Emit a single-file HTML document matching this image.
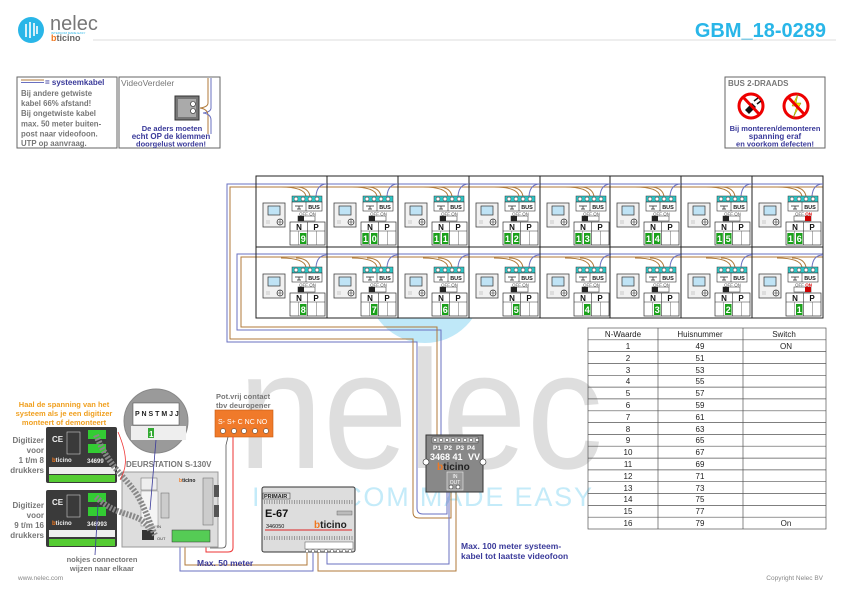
<!DOCTYPE html>
<html><head><meta charset="utf-8"><style>
html,body{margin:0;padding:0;background:#fff}
svg{display:block;font-family:"Liberation Sans",Arial,sans-serif}
.b{font-weight:bold}
.t5{font-size:5.5px;font-weight:bold;fill:#222}
.t4{font-size:4.5px;fill:#555}
.t7{font-size:8px;font-weight:bold;fill:#111}
.dg{font-size:9px;font-weight:bold;fill:#fff}
.tb{font-size:8px;fill:#222}
</style></head><body>
<svg width="841" height="595" viewBox="0 0 841 595" xmlns="http://www.w3.org/2000/svg">
<defs>
<g id="cell">
  <path d="M25 11 Q48 11 50 20" fill="none" stroke="#b07a3a" stroke-width="1"/>
  <path d="M71 8 Q61 8 60 20" fill="none" stroke="#6a70c0" stroke-width="1"/>
  <path d="M40 11 Q52 11 54 20" fill="none" stroke="#b07a3a" stroke-width="1"/>
  <rect x="7" y="27" width="22" height="24" fill="#f1f1f1" stroke="#444" stroke-width="0.8"/>
  <rect x="12" y="30" width="12" height="9" fill="#bfe3f5" stroke="#333" stroke-width="0.7"/>
  <rect x="10" y="44" width="4" height="4" fill="#ddd"/>
  <circle cx="24" cy="46" r="3" fill="#fff" stroke="#333" stroke-width="0.7"/>
  <path d="M21 46H27M24 43V49" stroke="#333" stroke-width="0.6"/>
  <rect x="36" y="20" width="30" height="6" fill="#2cc7c7" stroke="#333" stroke-width="0.5"/>
  <circle cx="40" cy="23" r="2" fill="#fff" stroke="#333" stroke-width="0.5"/>
  <circle cx="47" cy="23" r="2" fill="#fff" stroke="#333" stroke-width="0.5"/>
  <circle cx="54" cy="23" r="2" fill="#fff" stroke="#333" stroke-width="0.5"/>
  <circle cx="61" cy="23" r="2" fill="#fff" stroke="#333" stroke-width="0.5"/>
  <rect x="36" y="26" width="30" height="9" fill="#fff" stroke="#333" stroke-width="0.6"/>
  <line x1="50" y1="26" x2="50" y2="35" stroke="#333" stroke-width="0.6"/>
  <path d="M39 30H47M43 30V33M41 33H45" stroke="#222" stroke-width="0.7" fill="none"/>
  <rect x="42" y="40" width="17" height="5" fill="#fff" stroke="#444" stroke-width="0.6"/>
  <rect x="34" y="46" width="35" height="23" fill="#fff" stroke="#333" stroke-width="0.7"/>
  <line x1="34" y1="55" x2="69" y2="55" stroke="#333" stroke-width="0.6"/>
  <line x1="51.5" y1="46" x2="51.5" y2="69" stroke="#333" stroke-width="0.6"/>
  <line x1="42.75" y1="55" x2="42.75" y2="69" stroke="#666" stroke-width="0.5"/>
  <line x1="60.25" y1="55" x2="60.25" y2="69" stroke="#666" stroke-width="0.5"/>
</g>
<rect id="off" x="42" y="40" width="6" height="5" fill="#222"/>
<rect id="on" x="53" y="40" width="6" height="5" fill="#c00"/>
</defs>

<!-- header -->
<circle cx="31" cy="30" r="13" fill="#29b6e8"/>
<path d="M26 24V37M30 22V38M34 23V36M37 26V34" stroke="#fff" stroke-width="1.6"/>
<text x="50" y="30" font-size="20" fill="#777">nelec</text>
<text x="51" y="34" font-size="3" fill="#29b6e8">INTERCOM MADE EASY</text>
<text x="51" y="41" font-size="9" font-weight="bold" fill="#666"><tspan fill="#f07820">b</tspan>ticino</text>
<line x1="93" y1="40" x2="836" y2="40" stroke="#ddd" stroke-width="1"/>
<text x="826" y="37" font-size="20" font-weight="bold" fill="#29b6e8" text-anchor="end">GBM_18-0289</text>

<!-- watermark -->
<circle cx="425" cy="285" r="58" fill="#bfe8f8"/>
<text x="238" y="468" font-size="168" fill="#dedede" textLength="365" lengthAdjust="spacingAndGlyphs">nelec</text>
<text x="252" y="506" font-size="27" fill="#c4ebf9" textLength="340" lengthAdjust="spacing">INTERCOM MADE EASY</text>

<!-- legend boxes -->
<rect x="17" y="77" width="100" height="71" fill="#fff" stroke="#666" stroke-width="1"/>
<line x1="21" y1="80" x2="44" y2="80" stroke="#b07a3a" stroke-width="1"/>
<line x1="21" y1="82.5" x2="44" y2="82.5" stroke="#6a70c0" stroke-width="1"/>
<text x="45" y="85" class="b" font-size="8" fill="#3a3a9a">= systeemkabel</text>
<g class="b" font-size="7.8" fill="#777">
<text x="21" y="96">Bij andere getwiste</text>
<text x="21" y="106">kabel 66% afstand!</text>
<text x="21" y="116.2">Bij ongetwiste kabel</text>
<text x="21" y="126.4">max. 50 meter buiten-</text>
<text x="21" y="136.6">post naar videofoon.</text>
<text x="21" y="146.2">UTP op aanvraag.</text>
</g>
<rect x="119" y="77" width="101" height="71" fill="#fff" stroke="#666" stroke-width="1"/>
<text x="121" y="86" font-size="8.5" fill="#777">VideoVerdeler</text>
<path d="M208 78V103Q208 107 200 108" stroke="#b07a3a" fill="none"/>
<path d="M211 78V108Q211 112 203 113" stroke="#6a70c0" fill="none"/>
<path d="M200 108Q208 109 208 116V134" stroke="#b07a3a" fill="none"/>
<path d="M203 113Q211 114 211 120V134" stroke="#6a70c0" fill="none"/>
<rect x="175" y="96" width="24" height="24" fill="#777" stroke="#333"/>
<rect x="178" y="99" width="18" height="18" fill="#aaa"/>
<circle cx="193" cy="104" r="2.5" fill="#fff" stroke="#222" stroke-width="0.6"/>
<circle cx="193" cy="111" r="2.5" fill="#fff" stroke="#222" stroke-width="0.6"/>
<g class="b" fill="#3a3a9a" text-anchor="middle">
<text x="172" y="131" font-size="7.5">De aders moeten</text>
<text x="171" y="139" font-size="8">echt OP de klemmen</text>
<text x="171" y="146.5" font-size="7.5">doorgelust worden!</text>
</g>
<rect x="725" y="77" width="100" height="71" fill="#fff" stroke="#666" stroke-width="1"/>
<text x="728" y="86" class="b" font-size="8" fill="#777">BUS 2-DRAADS</text>
<circle cx="751" cy="106" r="12" fill="#fff" stroke="#e00" stroke-width="3"/>
<path d="M745 110L752 103L756 107L749 114Z" fill="#111"/><path d="M754 101L758 98M757 104L761 101" stroke="#111" stroke-width="1.5"/>
<line x1="743" y1="97" x2="760" y2="115" stroke="#e00" stroke-width="3"/>
<circle cx="796" cy="106" r="12" fill="#fff" stroke="#e00" stroke-width="3"/>
<path d="M798 94L792 106L797 106L793 118L801 103L796 103Z" fill="#ee0" stroke="#880" stroke-width="0.5"/>
<line x1="788" y1="97" x2="805" y2="115" stroke="#e00" stroke-width="3"/>
<g class="b" fill="#3a3a9a" text-anchor="middle">
<text x="775" y="131" font-size="7.5">Bij monteren/demonteren</text>
<text x="775" y="139" font-size="8">spanning eraf</text>
<text x="775" y="146.5" font-size="7.5">en voorkom defecten!</text>
</g>

<!-- system cable wiring -->
<g fill="none" stroke-width="1">
<path d="M256 184H227V342H417V508Q417 514 423 514H447V490" stroke="#6a70c0"/>
<path d="M256 187H230V339H413V512Q413 518 419 518H451V490" stroke="#b07a3a"/>
<path d="M256 254H237V330H441V436" stroke="#6a70c0"/>
<path d="M256 257H241V327H437V436" stroke="#b07a3a"/>
<path d="M327 552V564H449V492" stroke="#6a70c0"/>
<path d="M318 552V571H456V492" stroke="#b07a3a"/>
<path d="M313 552V571H180V541" stroke="#6a70c0"/>
<path d="M307 552V565H185V541" stroke="#b07a3a"/>
</g>

<!-- grid -->
<rect x="256" y="176" width="567" height="142" fill="#fff"/>
<path d="M256 184H823" stroke="#6a70c0" fill="none"/>
<path d="M256 187H823" stroke="#b07a3a" fill="none"/>
<path d="M256 254H823" stroke="#6a70c0" fill="none"/>
<path d="M256 257H823" stroke="#b07a3a" fill="none"/>
<g fill="none" stroke="#222" stroke-width="1">
<rect x="256" y="176" width="567" height="142"/>
<line x1="256" y1="247" x2="823" y2="247"/>
<line x1="327" y1="176" x2="327" y2="318"/><line x1="398" y1="176" x2="398" y2="318"/>
<line x1="469" y1="176" x2="469" y2="318"/><line x1="540" y1="176" x2="540" y2="318"/>
<line x1="610" y1="176" x2="610" y2="318"/><line x1="681" y1="176" x2="681" y2="318"/>
<line x1="752" y1="176" x2="752" y2="318"/>
</g>

<!-- row 1 -->
<g transform="translate(256,176)"><use href="#cell"/><use href="#off"/><text x="58" y="33" class="t5" text-anchor="middle">BUS</text><text x="43" y="39.5" class="t4">OFF ON</text><text x="43" y="54" class="t7" text-anchor="middle">N</text><text x="60" y="54" class="t7" text-anchor="middle">P</text><rect x="44" y="57" width="6.5" height="11" fill="#1aa01a"/><text x="47.3" y="66" class="dg" text-anchor="middle">9</text></g>
<g transform="translate(327,176)"><use href="#cell"/><use href="#off"/><text x="58" y="33" class="t5" text-anchor="middle">BUS</text><text x="43" y="39.5" class="t4">OFF ON</text><text x="43" y="54" class="t7" text-anchor="middle">N</text><text x="60" y="54" class="t7" text-anchor="middle">P</text><rect x="35.3" y="57" width="6.5" height="11" fill="#1aa01a"/><text x="38.5" y="66" class="dg" text-anchor="middle">1</text><rect x="44" y="57" width="6.5" height="11" fill="#1aa01a"/><text x="47.3" y="66" class="dg" text-anchor="middle">0</text></g>
<g transform="translate(398,176)"><use href="#cell"/><use href="#off"/><text x="58" y="33" class="t5" text-anchor="middle">BUS</text><text x="43" y="39.5" class="t4">OFF ON</text><text x="43" y="54" class="t7" text-anchor="middle">N</text><text x="60" y="54" class="t7" text-anchor="middle">P</text><rect x="35.3" y="57" width="6.5" height="11" fill="#1aa01a"/><text x="38.5" y="66" class="dg" text-anchor="middle">1</text><rect x="44" y="57" width="6.5" height="11" fill="#1aa01a"/><text x="47.3" y="66" class="dg" text-anchor="middle">1</text></g>
<g transform="translate(469,176)"><use href="#cell"/><use href="#off"/><text x="58" y="33" class="t5" text-anchor="middle">BUS</text><text x="43" y="39.5" class="t4">OFF ON</text><text x="43" y="54" class="t7" text-anchor="middle">N</text><text x="60" y="54" class="t7" text-anchor="middle">P</text><rect x="35.3" y="57" width="6.5" height="11" fill="#1aa01a"/><text x="38.5" y="66" class="dg" text-anchor="middle">1</text><rect x="44" y="57" width="6.5" height="11" fill="#1aa01a"/><text x="47.3" y="66" class="dg" text-anchor="middle">2</text></g>
<g transform="translate(540,176)"><use href="#cell"/><use href="#off"/><text x="58" y="33" class="t5" text-anchor="middle">BUS</text><text x="43" y="39.5" class="t4">OFF ON</text><text x="43" y="54" class="t7" text-anchor="middle">N</text><text x="60" y="54" class="t7" text-anchor="middle">P</text><rect x="35.3" y="57" width="6.5" height="11" fill="#1aa01a"/><text x="38.5" y="66" class="dg" text-anchor="middle">1</text><rect x="44" y="57" width="6.5" height="11" fill="#1aa01a"/><text x="47.3" y="66" class="dg" text-anchor="middle">3</text></g>
<g transform="translate(610,176)"><use href="#cell"/><use href="#off"/><text x="58" y="33" class="t5" text-anchor="middle">BUS</text><text x="43" y="39.5" class="t4">OFF ON</text><text x="43" y="54" class="t7" text-anchor="middle">N</text><text x="60" y="54" class="t7" text-anchor="middle">P</text><rect x="35.3" y="57" width="6.5" height="11" fill="#1aa01a"/><text x="38.5" y="66" class="dg" text-anchor="middle">1</text><rect x="44" y="57" width="6.5" height="11" fill="#1aa01a"/><text x="47.3" y="66" class="dg" text-anchor="middle">4</text></g>
<g transform="translate(681,176)"><use href="#cell"/><use href="#off"/><text x="58" y="33" class="t5" text-anchor="middle">BUS</text><text x="43" y="39.5" class="t4">OFF ON</text><text x="43" y="54" class="t7" text-anchor="middle">N</text><text x="60" y="54" class="t7" text-anchor="middle">P</text><rect x="35.3" y="57" width="6.5" height="11" fill="#1aa01a"/><text x="38.5" y="66" class="dg" text-anchor="middle">1</text><rect x="44" y="57" width="6.5" height="11" fill="#1aa01a"/><text x="47.3" y="66" class="dg" text-anchor="middle">5</text></g>
<g transform="translate(752,176)"><use href="#cell"/><use href="#on"/><text x="58" y="33" class="t5" text-anchor="middle">BUS</text><text x="43" y="39.5" class="t4">OFF <tspan fill="#d00" font-weight="bold">ON</tspan></text><text x="43" y="54" class="t7" text-anchor="middle">N</text><text x="60" y="54" class="t7" text-anchor="middle">P</text><rect x="35.3" y="57" width="6.5" height="11" fill="#1aa01a"/><text x="38.5" y="66" class="dg" text-anchor="middle">1</text><rect x="44" y="57" width="6.5" height="11" fill="#1aa01a"/><text x="47.3" y="66" class="dg" text-anchor="middle">6</text></g>
<!-- row 2 -->
<g transform="translate(256,247)"><use href="#cell"/><use href="#off"/><text x="58" y="33" class="t5" text-anchor="middle">BUS</text><text x="43" y="39.5" class="t4">OFF ON</text><text x="43" y="54" class="t7" text-anchor="middle">N</text><text x="60" y="54" class="t7" text-anchor="middle">P</text><rect x="44" y="57" width="6.5" height="11" fill="#1aa01a"/><text x="47.3" y="66" class="dg" text-anchor="middle">8</text></g>
<g transform="translate(327,247)"><use href="#cell"/><use href="#off"/><text x="58" y="33" class="t5" text-anchor="middle">BUS</text><text x="43" y="39.5" class="t4">OFF ON</text><text x="43" y="54" class="t7" text-anchor="middle">N</text><text x="60" y="54" class="t7" text-anchor="middle">P</text><rect x="44" y="57" width="6.5" height="11" fill="#1aa01a"/><text x="47.3" y="66" class="dg" text-anchor="middle">7</text></g>
<g transform="translate(398,247)"><use href="#cell"/><use href="#off"/><text x="58" y="33" class="t5" text-anchor="middle">BUS</text><text x="43" y="39.5" class="t4">OFF ON</text><text x="43" y="54" class="t7" text-anchor="middle">N</text><text x="60" y="54" class="t7" text-anchor="middle">P</text><rect x="44" y="57" width="6.5" height="11" fill="#1aa01a"/><text x="47.3" y="66" class="dg" text-anchor="middle">6</text></g>
<g transform="translate(469,247)"><use href="#cell"/><use href="#off"/><text x="58" y="33" class="t5" text-anchor="middle">BUS</text><text x="43" y="39.5" class="t4">OFF ON</text><text x="43" y="54" class="t7" text-anchor="middle">N</text><text x="60" y="54" class="t7" text-anchor="middle">P</text><rect x="44" y="57" width="6.5" height="11" fill="#1aa01a"/><text x="47.3" y="66" class="dg" text-anchor="middle">5</text></g>
<g transform="translate(540,247)"><use href="#cell"/><use href="#off"/><text x="58" y="33" class="t5" text-anchor="middle">BUS</text><text x="43" y="39.5" class="t4">OFF ON</text><text x="43" y="54" class="t7" text-anchor="middle">N</text><text x="60" y="54" class="t7" text-anchor="middle">P</text><rect x="44" y="57" width="6.5" height="11" fill="#1aa01a"/><text x="47.3" y="66" class="dg" text-anchor="middle">4</text></g>
<g transform="translate(610,247)"><use href="#cell"/><use href="#off"/><text x="58" y="33" class="t5" text-anchor="middle">BUS</text><text x="43" y="39.5" class="t4">OFF ON</text><text x="43" y="54" class="t7" text-anchor="middle">N</text><text x="60" y="54" class="t7" text-anchor="middle">P</text><rect x="44" y="57" width="6.5" height="11" fill="#1aa01a"/><text x="47.3" y="66" class="dg" text-anchor="middle">3</text></g>
<g transform="translate(681,247)"><use href="#cell"/><use href="#off"/><text x="58" y="33" class="t5" text-anchor="middle">BUS</text><text x="43" y="39.5" class="t4">OFF ON</text><text x="43" y="54" class="t7" text-anchor="middle">N</text><text x="60" y="54" class="t7" text-anchor="middle">P</text><rect x="44" y="57" width="6.5" height="11" fill="#1aa01a"/><text x="47.3" y="66" class="dg" text-anchor="middle">2</text></g>
<g transform="translate(752,247)"><use href="#cell"/><use href="#on"/><text x="58" y="33" class="t5" text-anchor="middle">BUS</text><text x="43" y="39.5" class="t4">OFF <tspan fill="#d00" font-weight="bold">ON</tspan></text><text x="43" y="54" class="t7" text-anchor="middle">N</text><text x="60" y="54" class="t7" text-anchor="middle">P</text><rect x="44" y="57" width="6.5" height="11" fill="#1aa01a"/><text x="47.3" y="66" class="dg" text-anchor="middle">1</text></g>

<!-- table -->
<g stroke="#555" stroke-width="0.7" fill="none">
<rect x="588" y="328" width="238" height="201"/>
<line x1="658" y1="328" x2="658" y2="529"/><line x1="743" y1="328" x2="743" y2="529"/>
<path d="M588 339.8H826M588 351.6H826M588 363.5H826M588 375.3H826M588 387.1H826M588 398.9H826M588 410.8H826M588 422.6H826M588 434.4H826M588 446.2H826M588 458.1H826M588 469.9H826M588 481.7H826M588 493.5H826M588 505.4H826M588 517.2H826"/>
</g>
<g class="tb" text-anchor="middle">
<text x="623" y="337">N-Waarde</text><text x="700" y="337">Huisnummer</text><text x="784" y="337">Switch</text>
<text x="628" y="349">1</text><text x="700" y="349">49</text><text x="786" y="349">ON</text>
<text x="628" y="361">2</text><text x="700" y="361">51</text>
<text x="628" y="373">3</text><text x="700" y="373">53</text>
<text x="628" y="384">4</text><text x="700" y="384">55</text>
<text x="628" y="396">5</text><text x="700" y="396">57</text>
<text x="628" y="408">6</text><text x="700" y="408">59</text>
<text x="628" y="420">7</text><text x="700" y="420">61</text>
<text x="628" y="432">8</text><text x="700" y="432">63</text>
<text x="628" y="443">9</text><text x="700" y="443">65</text>
<text x="628" y="455">10</text><text x="700" y="455">67</text>
<text x="628" y="467">11</text><text x="700" y="467">69</text>
<text x="628" y="479">12</text><text x="700" y="479">71</text>
<text x="628" y="491">13</text><text x="700" y="491">73</text>
<text x="628" y="502">14</text><text x="700" y="502">75</text>
<text x="628" y="514">15</text><text x="700" y="514">77</text>
<text x="628" y="526">16</text><text x="700" y="526">79</text><text x="786" y="526">On</text>
</g>

<!-- distributor 3468 41 -->
<rect x="426" y="435" width="57" height="57" fill="#888" stroke="#333"/>
<circle cx="426" cy="462" r="3" fill="#fff" stroke="#333" stroke-width="0.6"/>
<circle cx="483" cy="462" r="3" fill="#fff" stroke="#333" stroke-width="0.6"/>
<rect x="432" y="437" width="46" height="6" fill="#bbb" stroke="#444" stroke-width="0.5"/>
<g fill="#fff" stroke="#222" stroke-width="0.5"><circle cx="435" cy="440" r="1.8"/><circle cx="441" cy="440" r="1.8"/><circle cx="447" cy="440" r="1.8"/><circle cx="453" cy="440" r="1.8"/><circle cx="459" cy="440" r="1.8"/><circle cx="465" cy="440" r="1.8"/><circle cx="471" cy="440" r="1.8"/><circle cx="477" cy="440" r="1.8"/></g>
<g font-size="6.5" font-weight="bold" fill="#fff" text-anchor="middle"><text x="437" y="450">P1</text><text x="448" y="450">P2</text><text x="460" y="450">P3</text><text x="471" y="450">P4</text></g>
<text x="430" y="460" font-size="9" font-weight="bold" fill="#fff">3468 41</text>
<text x="480" y="460" font-size="9" font-weight="bold" fill="#fff" text-anchor="end">VV</text>
<text x="437" y="470" font-size="10" font-weight="bold" fill="#222"><tspan fill="#f07820">b</tspan>ticino</text>
<rect x="447" y="472" width="16" height="18" fill="#999" stroke="#eee" stroke-width="0.6"/>
<text x="455" y="478" font-size="5" fill="#fff" text-anchor="middle">IN</text>
<text x="455" y="484" font-size="5" fill="#fff" text-anchor="middle">OUT</text>
<circle cx="451" cy="487" r="2" fill="#fff" stroke="#222" stroke-width="0.5"/><circle cx="458" cy="487" r="2" fill="#fff" stroke="#222" stroke-width="0.5"/>

<text x="461" y="549" font-size="8.5" font-weight="bold" fill="#3a3a9a">Max. 100 meter systeem-</text>
<text x="461" y="559" font-size="8.5" font-weight="bold" fill="#3a3a9a">kabel tot laatste videofoon</text>

<!-- E-67 -->
<rect x="262" y="487" width="93" height="65" rx="2" fill="#ddd" stroke="#333"/>
<rect x="263" y="493" width="27" height="6" fill="#ddd" stroke="#333" stroke-width="0.5"/>
<text x="264" y="498" font-size="5.5" font-weight="bold" fill="#222">PRIMAIR</text>
<path d="M264 501H353M264 503H353M264 537H353M264 539H353" stroke="#555" stroke-width="1" stroke-dasharray="1 1.5"/>
<text x="265" y="517" font-size="11" font-weight="bold" fill="#111">E-67</text>
<rect x="337" y="511" width="15" height="4" fill="#bbb" stroke="#555" stroke-width="0.4"/>
<line x1="265" y1="530" x2="352" y2="530" stroke="#d22" stroke-width="1"/>
<text x="266" y="528" font-size="5.5" fill="#111">346050</text>
<text x="314" y="528" font-size="10" font-weight="bold" fill="#222"><tspan fill="#f07820">b</tspan>ticino</text>
<rect x="305" y="542" width="48" height="7" fill="#fff" stroke="#555" stroke-width="0.5"/>
<g fill="#fff" stroke="#333" stroke-width="0.4"><circle cx="307" cy="551" r="1.6"/><circle cx="313" cy="551" r="1.6"/><circle cx="319" cy="551" r="1.6"/><circle cx="326" cy="551" r="1.6"/><circle cx="332" cy="551" r="1.6"/><circle cx="338" cy="551" r="1.6"/><circle cx="344" cy="551" r="1.6"/><circle cx="350" cy="551" r="1.6"/></g>

<text x="197" y="566" font-size="8.5" font-weight="bold" fill="#3a3a9a">Max. 50 meter</text>

<!-- orange contact block -->
<text x="216" y="399" font-size="7.5" font-weight="bold" fill="#777">Pot.vrij contact</text>
<text x="216" y="408" font-size="7.5" font-weight="bold" fill="#777">tbv deuropener</text>
<rect x="215" y="410" width="58" height="27" fill="#f07a2a" stroke="#c55a10" stroke-width="0.6"/>
<text x="218" y="424" font-size="7" fill="#fff">S-  S+ C NC NO</text>
<g fill="#fff" stroke="#333" stroke-width="0.5"><circle cx="223" cy="431" r="2.5"/><circle cx="234" cy="431" r="2.5"/><circle cx="244" cy="431" r="2.5"/><circle cx="255" cy="431" r="2.5"/><circle cx="266" cy="431" r="2.5"/></g>
<path d="M233 437V548Q233 552 228 552H206V545" fill="none" stroke="#e33" stroke-width="1"/>
<path d="M228 437L226 445V544Q226 548 222 548H210" fill="none" stroke="#555" stroke-width="0.8"/>

<!-- deurstation -->
<text x="126" y="467" font-size="8" font-weight="bold" fill="#777">DEURSTATION S-130V</text>
<rect x="122" y="472" width="96" height="75" fill="#ddd" stroke="#999"/>
<rect x="141" y="478" width="16" height="12" fill="#eee" stroke="#666" stroke-width="0.5"/>
<rect x="141" y="491" width="17" height="35" fill="#f4f4f4" stroke="#888" stroke-width="0.5"/>
<rect x="161" y="493" width="8" height="25" fill="#ccc" stroke="#666" stroke-width="0.5"/>
<rect x="203" y="478" width="10" height="47" fill="#ccc" stroke="#666" stroke-width="0.5"/>
<rect x="214" y="485" width="5" height="12" fill="#555"/><rect x="214" y="505" width="5" height="12" fill="#555"/>
<text x="179" y="482" font-size="5" font-weight="bold" fill="#222"><tspan fill="#f07820">b</tspan>ticino</text>
<rect x="172" y="530" width="38" height="12" fill="#5c5" stroke="#333" stroke-width="0.5"/>
<rect x="142" y="530" width="12" height="10" fill="#333"/>
<text x="157" y="528" font-size="4" fill="#333">IN</text><text x="157" y="540" font-size="4" fill="#333">OUT</text>

<!-- digitizers -->
<rect x="46" y="427" width="71" height="56" rx="2" fill="#3a3a3a"/>
<rect x="46" y="490" width="71" height="57" rx="2" fill="#3a3a3a"/>
<g fill="#eee" font-weight="bold"><text x="52" y="442" font-size="8">CE</text><text x="52" y="505" font-size="8">CE</text>
<text x="52" y="462" font-size="6"><tspan fill="#f07820">b</tspan>ticino</text><text x="52" y="525" font-size="6"><tspan fill="#f07820">b</tspan>ticino</text>
<text x="87" y="463" font-size="6">34699</text><text x="87" y="526" font-size="6">346993</text></g>
<rect x="67" y="432" width="13" height="22" fill="none" stroke="#ccc" stroke-width="0.6"/>
<rect x="67" y="495" width="13" height="22" fill="none" stroke="#ccc" stroke-width="0.6"/>
<rect x="88" y="430" width="18" height="9" fill="#3c3"/><rect x="88" y="444" width="18" height="9" fill="#3c3"/>
<rect x="88" y="493" width="18" height="9" fill="#3c3"/><rect x="88" y="507" width="18" height="9" fill="#3c3"/>
<rect x="49" y="467" width="66" height="7" fill="#eee"/><rect x="49" y="530" width="66" height="7" fill="#eee"/>
<rect x="49" y="475" width="66" height="7" fill="#5c3"/><rect x="49" y="539" width="66" height="7" fill="#5c3"/>
<!-- ribbon cables -->
<path d="M96 435C110 470 130 480 140 500S150 525 155 535" fill="none" stroke="#888" stroke-width="6" stroke-dasharray="2 1.5"/>
<path d="M96 497C120 520 140 510 150 530" fill="none" stroke="#888" stroke-width="6" stroke-dasharray="2 1.5"/>
<path d="M118 432C130 460 125 470 120 480" fill="none" stroke="#e33" stroke-width="0.8"/>
<line x1="98" y1="505" x2="95" y2="555" stroke="#3a3a9a" stroke-width="0.8"/>

<!-- magnifier -->
<circle cx="156" cy="421" r="32" fill="#9a9a9a" stroke="#888"/>
<rect x="133" y="403" width="46" height="22" fill="#fff" stroke="#444" stroke-width="0.5"/>
<text x="135" y="416" font-size="7" font-weight="bold" fill="#222">P N S T M J J</text>
<rect x="131" y="426" width="55" height="14" fill="#eee"/>
<rect x="148" y="428" width="6" height="10" fill="#3a3" /><text x="149" y="437" font-size="8" font-weight="bold" fill="#fff">1</text>
<line x1="156" y1="440" x2="150" y2="510" stroke="#3a3a9a" stroke-width="0.8"/>

<g font-weight="bold" text-anchor="middle">
<text x="64" y="407" font-size="7.5" fill="#f0a020">Haal de spanning van het</text>
<text x="64" y="416" font-size="7.5" fill="#f0a020">systeem als je een digitizer</text>
<text x="64" y="425" font-size="7.5" fill="#f0a020">monteert of demonteert</text>
<g font-size="8" fill="#777" text-anchor="end">
<text x="44" y="443">Digitizer</text><text x="44" y="453">voor</text><text x="44" y="463">1 t/m 8</text><text x="44" y="473">drukkers</text>
<text x="44" y="508">Digitizer</text><text x="44" y="518">voor</text><text x="44" y="528">9 t/m 16</text><text x="44" y="538">drukkers</text>
</g>
<text x="102" y="562" font-size="7.5" fill="#777">nokjes connectoren</text>
<text x="102" y="571" font-size="7.5" fill="#777">wijzen naar elkaar</text>
</g>

<text x="18" y="580" font-size="6.5" fill="#888">www.nelec.com</text>
<text x="823" y="580" font-size="6.5" fill="#888" text-anchor="end">Copyright Nelec BV</text>
</svg>
</body></html>
